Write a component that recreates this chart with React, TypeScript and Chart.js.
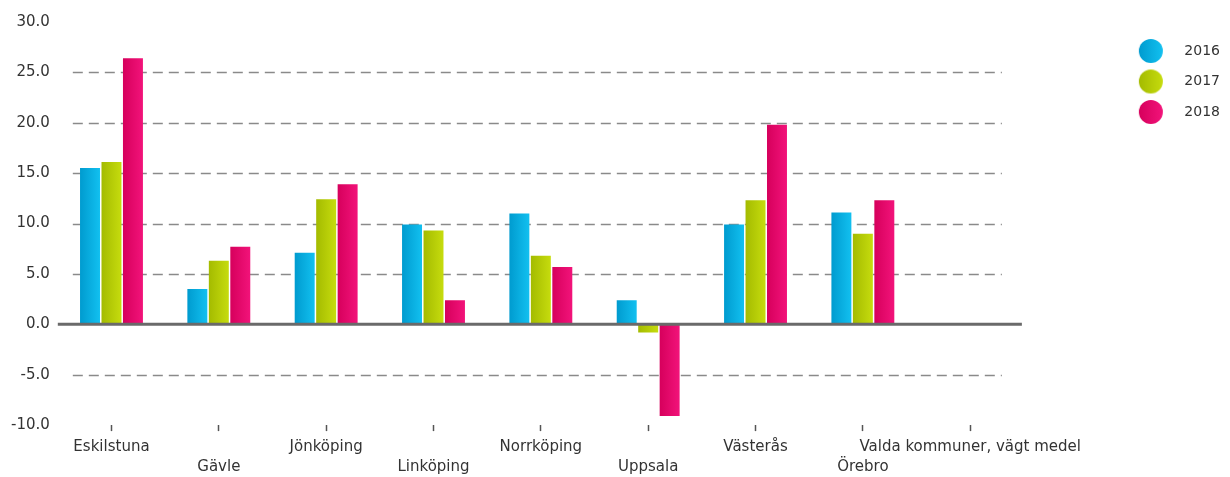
import React, { useEffect, useRef } from "react";
import { Chart, registerables } from "chart.js";

Chart.register(...registerables);

const categories = [
  "Eskilstuna",
  "Gävle",
  "Jönköping",
  "Linköping",
  "Norrköping",
  "Uppsala",
  "Västerås",
  "Örebro",
  "Valda kommuner, vägt medel",
];
const seriesNames = ["2016", "2017", "2018"];
const values2016 = [15.5, 3.5, 7.1, 9.9, 11.0, 2.4, 9.9, 11.1, null];
const values2017 = [16.1, 6.3, 12.4, 9.3, 6.8, -0.8, 12.3, 9.0, null];
const values2018 = [26.4, 7.7, 13.9, 2.4, 5.7, -9.1, 19.8, 12.3, null];
const yMin = -10;
const yMax = 30;
const yStep = 5;

const seriesColors = ["#0aa8dc", "#b4c908", "#e00a68"];
const gradientStops = [
  ["#009bcf", "#12c0f0"],
  ["#a4bb00", "#c6dc0e"],
  ["#d6005c", "#f2137a"],
];

const FONT = "'DejaVu Sans', Verdana, sans-serif";

function makeLegendIcon(stops: string[]) {
  const c = document.createElement("canvas");
  c.width = 110;
  c.height = 26;
  const g = c.getContext("2d")!;
  const cx = 97;
  const cy = 13;
  const grad = g.createLinearGradient(cx - 12, 0, cx + 12, 0);
  grad.addColorStop(0, stops[0]);
  grad.addColorStop(1, stops[1]);
  g.fillStyle = grad;
  g.beginPath();
  g.arc(cx, cy, 12, 0, Math.PI * 2);
  g.fill();
  return c;
}

const styler = {
  id: "styler",
  beforeDatasetsDraw(chart: any) {
    const { ctx, chartArea, scales } = chart;
    const y = scales.y;
    ctx.save();
    ctx.strokeStyle = "#8a8a8a";
    ctx.lineWidth = 1.5;
    ctx.setLineDash([10, 6]);
    y.ticks.forEach((t: any) => {
      if (t.value === yMin || t.value === yMax || t.value === 0) return;
      const py = Math.round(y.getPixelForValue(t.value)) + 0.5;
      ctx.beginPath();
      ctx.moveTo(chartArea.left + 15, py);
      ctx.lineTo(chartArea.right - 22, py);
      ctx.stroke();
    });
    ctx.restore();
    chart.data.datasets.forEach((ds: any, di: number) => {
      const meta = chart.getDatasetMeta(di);
      meta.data.forEach((el: any) => {
        const { x, width } = el.getProps(["x", "width"], true);
        if (!isFinite(x) || !isFinite(width)) return;
        const grad = ctx.createLinearGradient(x - width / 2, 0, x + width / 2, 0);
        grad.addColorStop(0, gradientStops[di][0]);
        grad.addColorStop(1, gradientStops[di][1]);
        el.options = { ...el.options, backgroundColor: grad };
      });
    });
  },
  afterDatasetsDraw(chart: any) {
    const { ctx, chartArea, scales } = chart;
    const py = scales.y.getPixelForValue(0);
    ctx.save();
    ctx.strokeStyle = "#6a6a6a";
    ctx.lineWidth = 3;
    ctx.beginPath();
    ctx.moveTo(chartArea.left, py);
    ctx.lineTo(chartArea.right - 2, py);
    ctx.stroke();
    ctx.restore();
  },
};

export default function App() {
  const ref = useRef<HTMLCanvasElement>(null);
  useEffect(() => {
    if (!ref.current) return;
    const icons = gradientStops.map(makeLegendIcon);
    const seriesValues = [values2016, values2017, values2018];
    const chart = new Chart(ref.current, {
      type: "bar",
      data: {
        labels: categories,
        datasets: seriesNames.map((name, i) => ({
          label: name,
          data: seriesValues[i],
          backgroundColor: () => seriesColors[i],
          borderWidth: 0,
          categoryPercentage: 0.6,
          barPercentage: 0.93,
        })),
      },
      plugins: [styler],
      options: {
        animation: false,
        responsive: true,
        maintainAspectRatio: false,
        layout: { padding: { left: 3, right: 0, top: 22, bottom: -6 } },
        plugins: {
          tooltip: { enabled: false },
          legend: {
            position: "right",
            align: "start",
            title: { display: true, text: "", font: { size: 1 }, padding: { top: 0, bottom: 4.3 } },
            labels: {
              usePointStyle: true,
              pointStyleWidth: 137,
              padding: 16.5,
              color: "#333",
              font: { family: FONT, size: 14 },
              generateLabels: (c: any) => {
                const items = (Chart.defaults.plugins.legend.labels as any).generateLabels(c);
                return items.map((it: any, i: number) => ({ ...it, pointStyle: icons[i] }));
              },
            },
          },
        },
        scales: {
          x: {
            offset: true,
            border: { display: false },
            grid: {
              offset: false,
              display: true,
              drawOnChartArea: false,
              drawTicks: true,
              tickLength: 6,
              tickColor: "#555",
              tickWidth: 1.5,
            },
            ticks: {
              autoSkip: false,
              maxRotation: 0,
              minRotation: 0,
              padding: 6,
              color: "#333",
              font: { family: FONT, size: 15, lineHeight: 1.33 },
              callback: (v: any, i: number) =>
                i % 2 === 0 ? [categories[i], ""] : ["", categories[i]],
            },
          },
          y: {
            min: yMin,
            max: yMax,
            border: { display: false },
            grid: { display: false, drawTicks: false },
            ticks: {
              stepSize: yStep,
              padding: 8,
              color: "#333",
              font: { family: FONT, size: 15 },
              callback: (v: any) => Number(v).toFixed(1),
            },
          },
        },
      },
    });
    return () => chart.destroy();
  }, []);
  return (
    <div style={{ position: "absolute", left: 0, top: 0, width: 1230, height: 477 }}>
      <canvas ref={ref} />
    </div>
  );
}
